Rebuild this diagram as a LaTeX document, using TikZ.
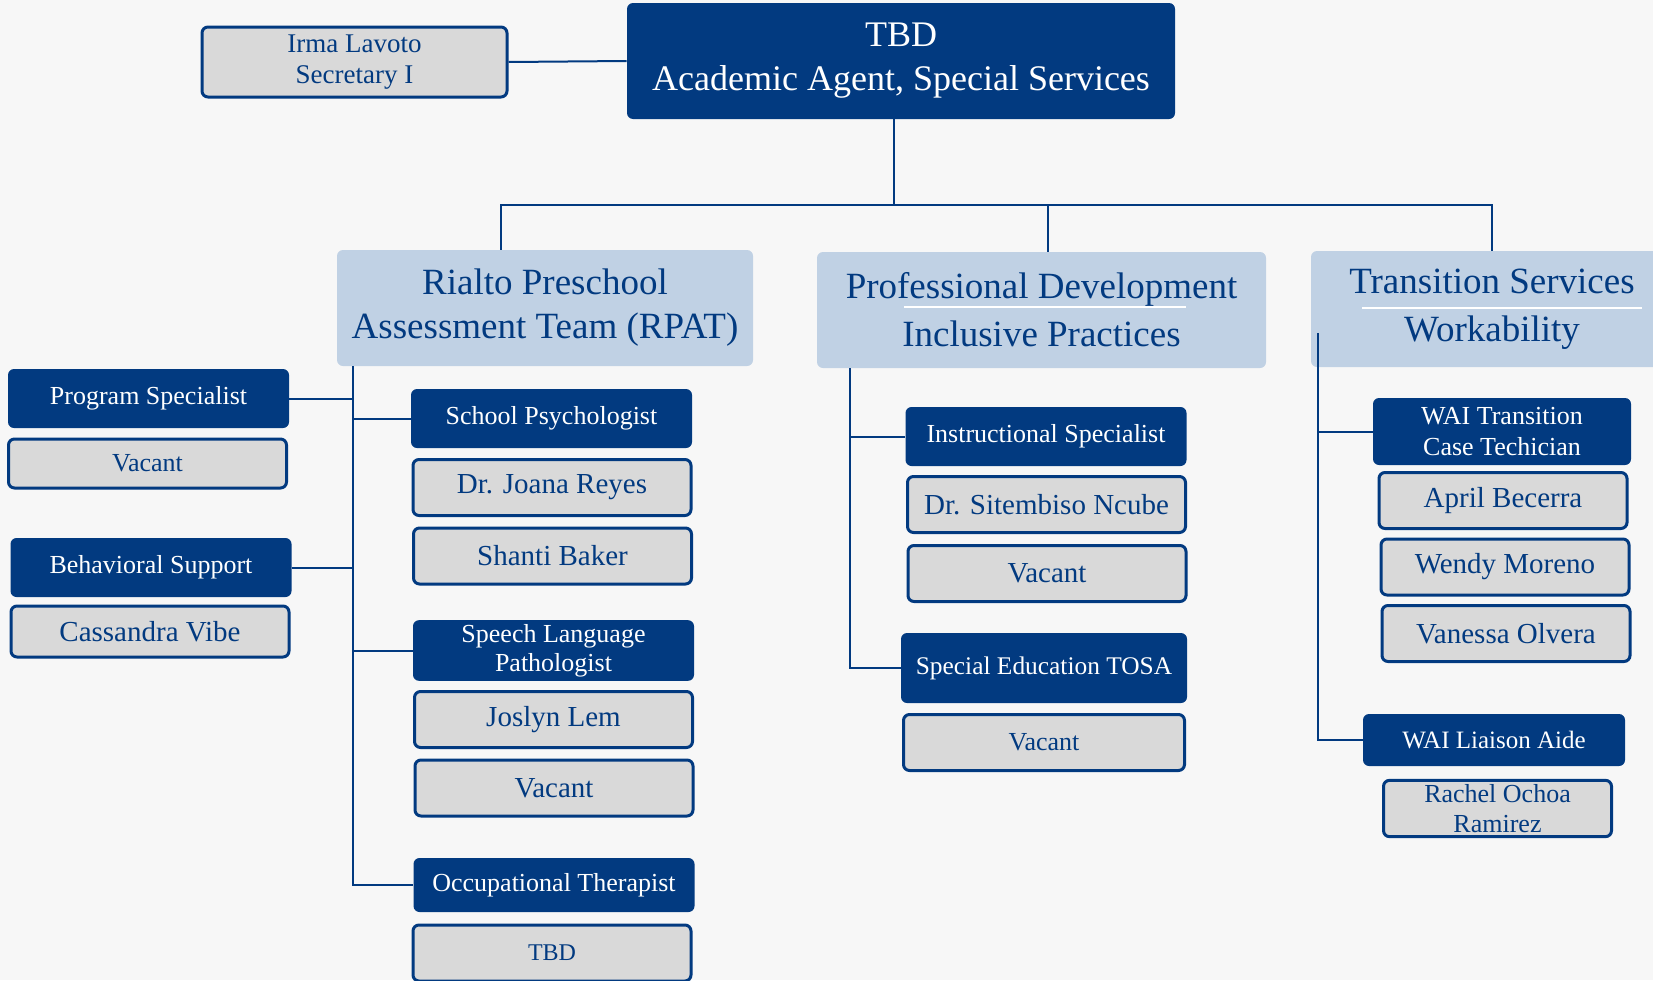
\documentclass[tikz,border=0pt]{standalone}
\usepackage{fontspec}
\setmainfont{Liberation Serif}
\usetikzlibrary{positioning}
\definecolor{navy}{HTML}{023A80}
\definecolor{paleblue}{HTML}{C0D1E4}
\definecolor{boxgrey}{HTML}{D9D9D9}
\definecolor{pagebg}{HTML}{F7F7F7}

\tikzset{
  boss/.style={fill=navy, text=white, rounded corners=3pt, align=center,
    font=\fontsize{18}{22}\selectfont},
  dept/.style={fill=paleblue, text=navy, rounded corners=3pt, align=center,
    minimum height=58pt, font=\fontsize{18.5}{22}\selectfont},
  role/.style={fill=navy, text=white, rounded corners=3pt, align=center, inner sep=2pt,
    minimum width=140.5pt, minimum height=29.5pt, font=\fontsize{13}{15}\selectfont},
  person/.style={fill=boxgrey, draw=navy, line width=1.5pt, text=navy, rounded corners=3pt,
    align=center, inner sep=2pt, minimum width=139pt, minimum height=28pt,
    font=\fontsize{14.5}{15.5}\selectfont},
  small/.style={font=\fontsize{13}{14.5}\selectfont},
  link/.style={navy, line width=1pt},
  underl/.style={white, line width=1pt}
}

\begin{document}
\begin{tikzpicture}[x=0.5pt, y=-0.5pt]
  \fill[pagebg] (0,0) rectangle (1653,980);
  \useasboundingbox (0,0) rectangle (1653,980);

  % top
  \node[boss, minimum width=274pt, minimum height=58pt] (head) at (901,61) {TBD\\Academic Agent, Special Services};
  \node[person, minimum width=152.5pt, minimum height=35pt, font=\fontsize{13.5}{15.8}\selectfont] (irma) at (354.5,62) {Irma Lavoto\\Secretary I};

  % departments
  \node[dept, minimum width=208pt] (rpat) at (545,308) {Rialto Preschool\\Assessment Team (RPAT)};
  \node[dept, minimum width=224.5pt, font=\fontsize{18.5}{24}\selectfont] (pd) at (1041.5,310) {Professional Development\\Inclusive Practices};
  \node[dept, minimum width=181pt, font=\fontsize{18.5}{24}\selectfont] (ts) at (1492,309) {Transition Services\\Workability};
  \draw[underl] (904,307) -- (1186,307);
  \draw[underl] (1362,308) -- (1642,308);

  % rpat, left side
  \node[role] (progspec) at (148.5,398.5) {Program Specialist};
  \node[person, small, minimum height=24.5pt] (progvac) at (147.5,463.5) {Vacant};
  \node[role] (behav) at (151,567.5) {Behavioral Support};
  \node[person, minimum height=25.5pt] (cassandra) at (150,631.5) {Cassandra Vibe};

  % rpat, right side
  \node[role] (psy) at (551.5,418.5) {School Psychologist};
  \node[person] (reyes) at (552,487.5) {Dr. Joana Reyes};
  \node[person] (baker) at (552.5,556) {Shanti Baker};
  \node[role, font=\fontsize{13}{14.5}\selectfont] (slp) at (553.5,650.5) {Speech Language\\Pathologist};
  \node[person] (lem) at (553.5,719.5) {Joslyn Lem};
  \node[person] (slpvac) at (554,788) {Vacant};
  \node[role, minimum height=27pt] (ot) at (554,885) {Occupational Therapist};
  \node[person, font=\fontsize{12}{14}\selectfont] (otbd) at (552,953) {TBD};

  % professional development
  \node[role] (instr) at (1046,436.5) {Instructional Specialist};
  \node[person] (ncube) at (1046.5,504.5) {Dr. Sitembiso Ncube};
  \node[person] (instrvac) at (1047,573.5) {Vacant};
  \node[role, minimum width=143pt, minimum height=35pt, font=\fontsize{12.7}{15}\selectfont] (tosa) at (1044,668) {Special Education TOSA};
  \node[person, small, minimum width=140.5pt] (tosavac) at (1044,742.5) {Vacant};

  % transition services
  \node[role, minimum width=129pt, minimum height=33.5pt, font=\fontsize{13}{15.3}\selectfont] (wait) at (1502,431.5) {WAI Transition\\Case Techician};
  \node[person, minimum width=124pt] (becerra) at (1503,500.5) {April Becerra};
  \node[person, minimum width=124pt] (moreno) at (1505,567) {Wendy Moreno};
  \node[person, minimum width=124pt] (olvera) at (1506,633.5) {Vanessa Olvera};
  \node[role, minimum width=131pt, minimum height=26pt, font=\fontsize{12.5}{14}\selectfont] (liaison) at (1494,740) {WAI Liaison Aide};
  \node[person, minimum width=114pt, font=\fontsize{13}{15}\selectfont] (ochoa) at (1497.5,808.5) {Rachel Ochoa\\Ramirez};

  % connectors
  \draw[link] (irma.east) -- (head.west);
  \draw[link] ([xshift=-3.5pt]head.south) -- ++(0,86) coordinate (bar);
  \draw[link] ([xshift=-22pt]rpat.north) |- (bar) -| (ts.north);
  \draw[link] ([xshift=3pt]pd.north) -- ([xshift=3pt]pd.north |- bar);

  \coordinate (rpatspine) at ([xshift=8pt]rpat.south west);
  \draw[link] (rpatspine) |- (ot.west);
  \foreach \n in {psy,slp}
    \draw[link] (\n.west) -- (\n.west -| rpatspine);
  \foreach \n in {progspec,behav}
    \draw[link] (\n.east) -- (\n.east -| rpatspine);

  \coordinate (pdspine) at ([xshift=16.5pt]pd.south west);
  \draw[link] (pdspine) |- (tosa.west);
  \draw[link] (instr.west) -- (instr.west -| pdspine);

  \coordinate (tsspine) at ([xshift=3.5pt,yshift=17pt]ts.south west);
  \draw[link] (tsspine) |- (liaison.west);
  \draw[link] (wait.west) -- (wait.west -| tsspine);
\end{tikzpicture}
\end{document}
